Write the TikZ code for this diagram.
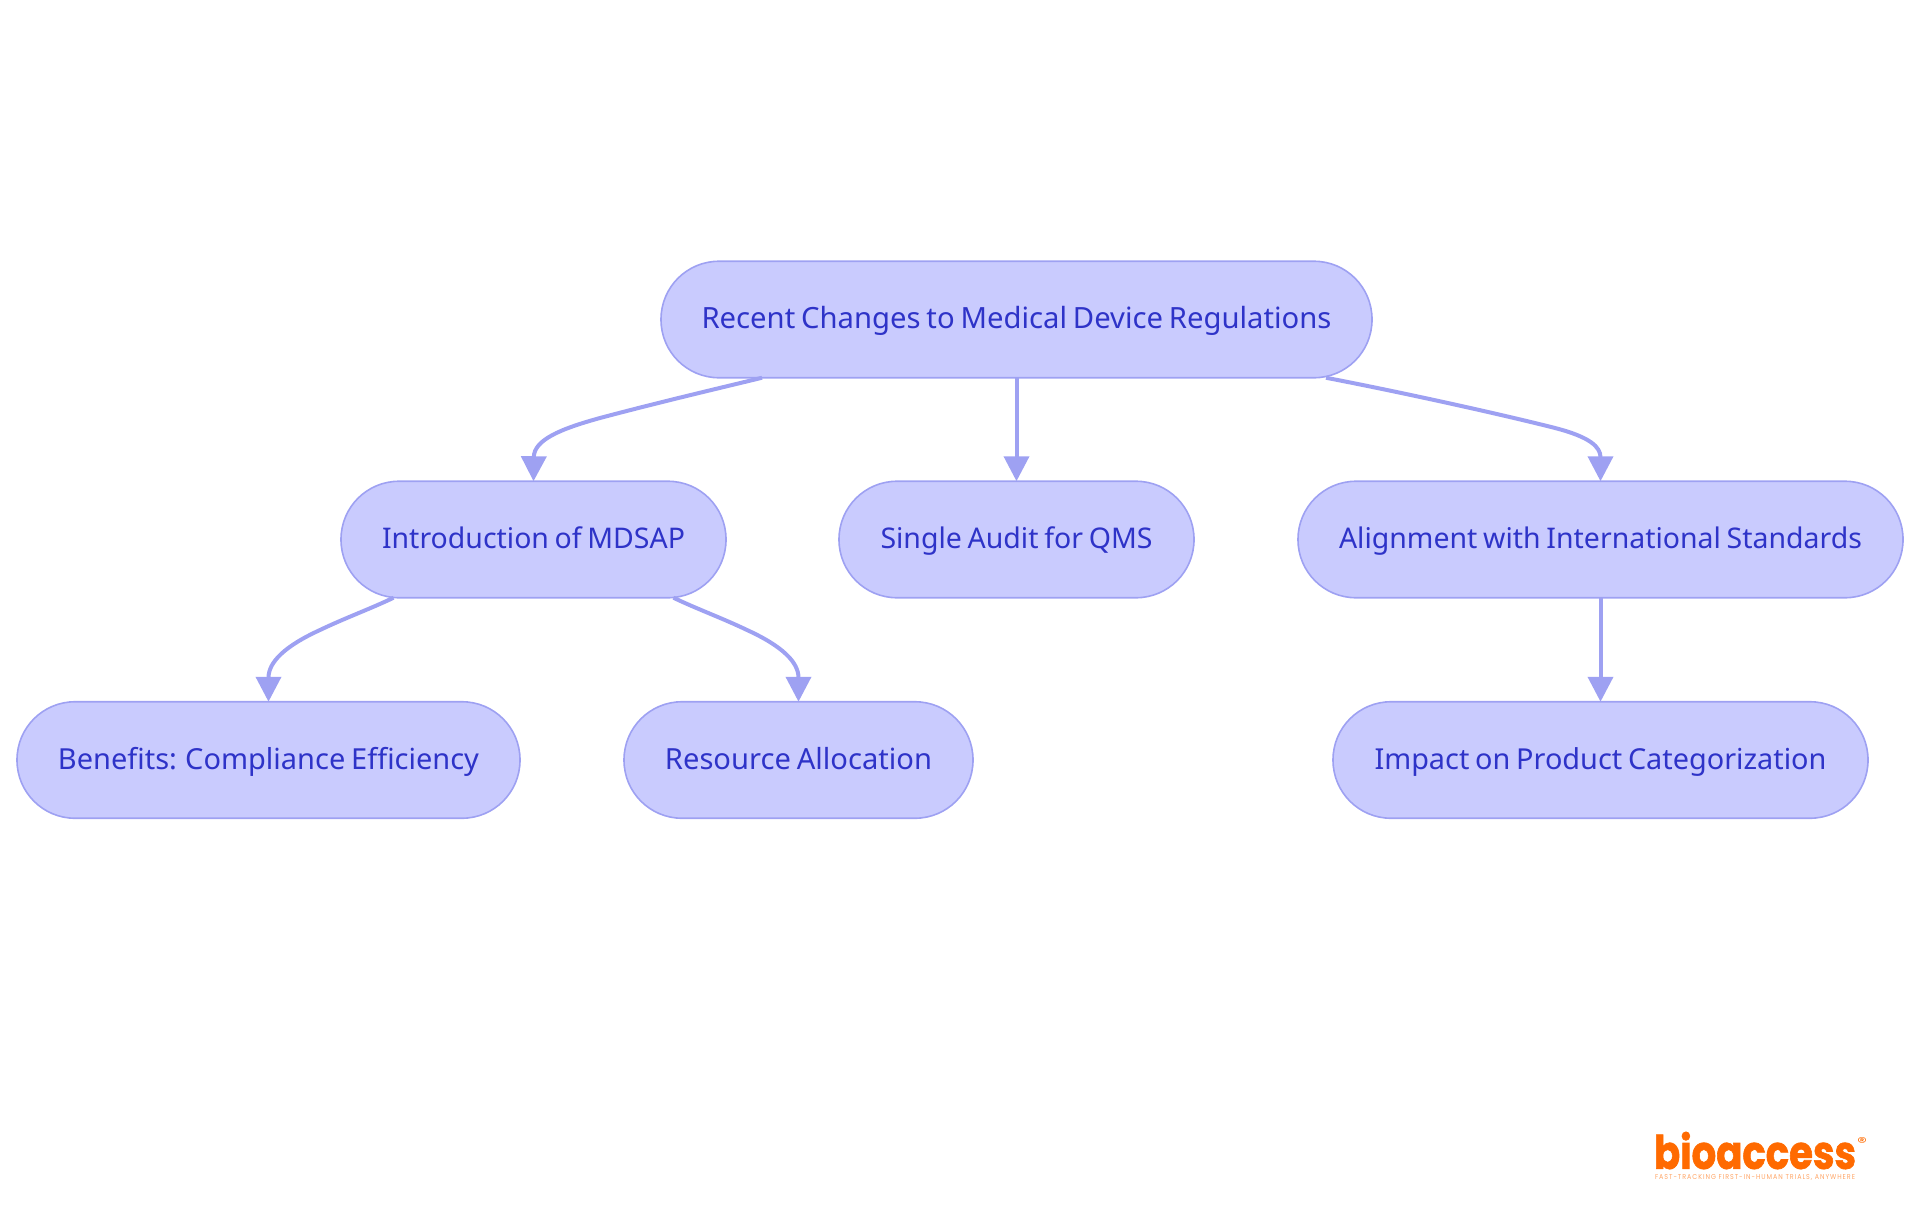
\documentclass[tikz,border=0pt]{standalone}
\usepackage{fontspec}
\usepackage{graphicx}
\setmainfont{Noto Sans}
\newfontfamily\logofont{Poppins}
\usetikzlibrary{arrows.meta}
\definecolor{pillfill}{HTML}{C9CBFE}
\definecolor{pillline}{HTML}{9EA1F2}
\definecolor{pilltext}{HTML}{2E33C8}
\definecolor{logoorange}{HTML}{FF6A00}
\newcommand{\fitw}[2]{\resizebox{#1pt}{!}{\spaceskip=0.2em\relax #2}}
\tikzset{
  pill/.style={draw=pillline,fill=pillfill,line width=1.6pt,outer sep=0pt,rounded corners=58pt,
    minimum height=116.5pt,inner sep=0pt,text=pilltext,text height=24pt,text depth=6pt,
    font=\fontsize{29}{34}\selectfont},
  link/.style={draw=pillline,line width=4pt,-{Triangle[length=25pt,width=25pt]}}
}
\begin{document}
\begin{tikzpicture}[x=1pt,y=-1pt]
\useasboundingbox (0,0) rectangle (1920,1215);
\node[pill,minimum width=711pt] (root) at (1016.5,319.5) {\fitw{630}{Recent Changes to Medical Device Regulations}};
\node[pill,minimum width=385pt] (intro) at (533.5,539.5) {\fitw{303}{Introduction of MDSAP}};
\node[pill,minimum width=355pt] (single) at (1016.5,539.5) {\fitw{272}{Single Audit for QMS}};
\node[pill,minimum width=605pt] (align) at (1600.5,539.5) {\fitw{523}{Alignment with International Standards}};
\node[pill,minimum width=503pt] (benefits) at (268.5,760) {\fitw{421}{Benefits: Compliance Efficiency}};
\node[pill,minimum width=349pt] (resource) at (798.5,760) {\fitw{267}{Resource Allocation}};
\node[pill,minimum width=535pt] (impact) at (1600.5,760) {\fitw{452}{Impact on Product Categorization}};
\draw[link] ([xshift=-254.5pt]root.south) .. controls (720,388) and (660,402) .. (600,418) .. controls (560,429) and (534,440) .. (intro.north);
\draw[link] (root.south) -- (single.north);
\draw[link] ([xshift=309.5pt]root.south) .. controls (1400,392) and (1500,414) .. (1555,428) .. controls (1590,437) and (1600.5,447) .. (align.north);
\draw[link] ([xshift=-140pt]intro.south) .. controls (370,609) and (345,618) .. (320,630) .. controls (285,646) and (268.5,662) .. (benefits.north);
\draw[link] ([xshift=140pt]intro.south) .. controls (697,609) and (722,618) .. (747,630) .. controls (782,646) and (798.5,662) .. (resource.north);
\draw[link] (align.south) -- (impact.north);
\node[inner sep=0pt,text=logoorange,font=\logofont\bfseries] (logo) at (1755,1150.5) {\resizebox{202pt}{37pt}{\addfontfeature{FakeBold=1.5}bioaccess}};
\node[inner sep=0pt,text=logoorange,font=\logofont] (reg) at (1862,1142) {\resizebox{10pt}{10pt}{®}};
\node[inner sep=0pt,text=logoorange!60,font=\logofont] (tag) at (1755,1177) {\resizebox{200pt}{5pt}{\addfontfeature{LetterSpace=15}FAST-TRACKING FIRST-IN-HUMAN TRIALS, ANYWHERE}};
\end{tikzpicture}
\end{document}
